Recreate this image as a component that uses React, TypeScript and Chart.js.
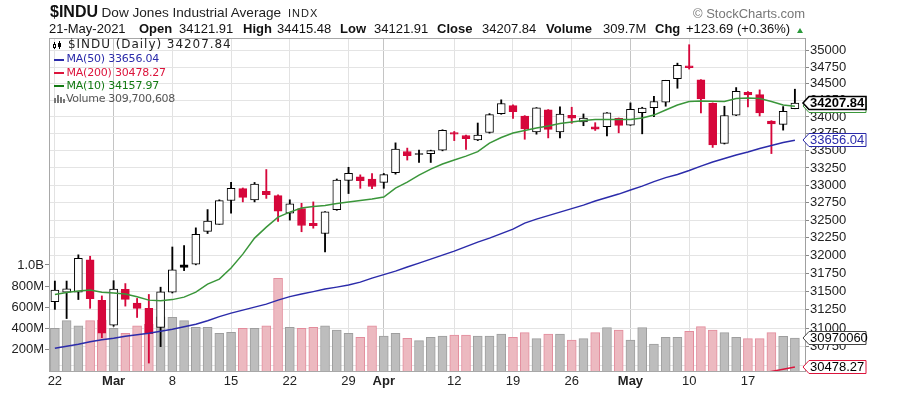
import React, { useEffect, useRef } from 'react';
import { Chart, registerables } from 'chart.js';

Chart.register(...registerables);

// ---------- data ----------
const dates = [
  '2021-02-22', '2021-02-23', '2021-02-24', '2021-02-25', '2021-02-26',
  '2021-03-01', '2021-03-02', '2021-03-03', '2021-03-04', '2021-03-05',
  '2021-03-08', '2021-03-09', '2021-03-10', '2021-03-11', '2021-03-12',
  '2021-03-15', '2021-03-16', '2021-03-17', '2021-03-18', '2021-03-19',
  '2021-03-22', '2021-03-23', '2021-03-24', '2021-03-25', '2021-03-26',
  '2021-03-29', '2021-03-30', '2021-03-31', '2021-04-01',
  '2021-04-05', '2021-04-06', '2021-04-07', '2021-04-08', '2021-04-09',
  '2021-04-12', '2021-04-13', '2021-04-14', '2021-04-15', '2021-04-16',
  '2021-04-19', '2021-04-20', '2021-04-21', '2021-04-22', '2021-04-23',
  '2021-04-26', '2021-04-27', '2021-04-28', '2021-04-29', '2021-04-30',
  '2021-05-03', '2021-05-04', '2021-05-05', '2021-05-06', '2021-05-07',
  '2021-05-10', '2021-05-11', '2021-05-12', '2021-05-13', '2021-05-14',
  '2021-05-17', '2021-05-18', '2021-05-19', '2021-05-20', '2021-05-21',
];

const opens = [
  31360, 31490, 31490, 31940, 31380,
  31040, 31530, 31340, 31270, 31010,
  31490, 31870, 31880, 32340, 32440,
  32780, 32950, 32790, 32910, 32850,
  32600, 32665, 32455, 32310, 32650,
  33070, 33120, 33090, 33040,
  33180, 33490, 33460, 33460, 33510,
  33770, 33725, 33660, 33770, 34050,
  34170, 34015, 33780, 34105, 33780,
  34025, 33925, 33855, 33855, 33980,
  33880, 34063, 34140, 34220, 34575,
  34770, 34555, 34205, 33610, 34025,
  34370, 34335, 33940, 33890, 34121.91,
];

const highs = [
  31645, 31645, 32010, 31990, 31440,
  31650, 31610, 31405, 31460, 31560,
  32120, 32140, 32390, 32650, 32790,
  33040, 32960, 33040, 33227, 32860,
  32790, 32740, 32760, 32620, 33090,
  33260, 33150, 33170, 33170,
  33617, 33540, 33510, 33510, 33810,
  33785, 33730, 33910, 34050, 34256,
  34180, 34020, 34140, 34110, 34150,
  34145, 34045, 33915, 34065, 33985,
  34210, 34145, 34310, 34550, 34810,
  35091.56, 34560, 34210, 34160, 34440,
  34380, 34405, 33945, 34155, 34415.48,
];

const lows = [
  31255, 31130, 31390, 31270, 30870,
  31025, 31300, 31145, 30530, 30750,
  31480, 31790, 31870, 32310, 32440,
  32600, 32760, 32760, 32810, 32480,
  32500, 32335, 32385, 32050, 32640,
  32880, 32955, 32950, 32955,
  33160, 33365, 33330, 33330, 33500,
  33650, 33520, 33650, 33760, 34040,
  33980, 33670, 33745, 33690, 33690,
  33905, 33870, 33800, 33720, 33765,
  33875, 33750, 34005, 34160, 34430,
  34720, 34060, 33550, 33600, 34020,
  34150, 34015, 33460, 33805, 34121.91,
];

const closes = [
  31521.69, 31537.35, 31961.86, 31402.01, 30932.37,
  31535.51, 31391.52, 31270.09, 30924.14, 31496.30,
  31802.44, 31832.74, 32297.02, 32485.59, 32778.64,
  32953.46, 32825.95, 33015.37, 32862.30, 32627.97,
  32731.20, 32423.15, 32420.06, 32619.48, 33072.88,
  33171.37, 33066.96, 32981.55, 33153.21,
  33527.19, 33430.24, 33446.26, 33503.57, 33800.60,
  33745.40, 33677.27, 33730.89, 34035.99, 34200.67,
  34077.63, 33821.30, 34137.31, 33815.90, 34043.49,
  33981.57, 33984.93, 33820.38, 34060.36, 33874.85,
  34113.23, 34133.03, 34230.34, 34548.53, 34777.76,
  34742.82, 34269.16, 33587.66, 34021.45, 34382.13,
  34327.79, 34060.66, 33896.04, 34084.15, 34207.84,
];

const prevClose = 31494.32;

const volumes = [
  403e6, 475e6, 425e6, 475e6, 480e6,
  403e6, 356e6, 425e6, 440e6, 510e6,
  507e6, 475e6, 412e6, 412e6, 356e6,
  365e6, 403e6, 403e6, 425e6, 875e6,
  412e6, 403e6, 412e6, 425e6, 387e6,
  356e6, 318e6, 425e6, 330e6,
  356e6, 308e6, 286e6, 318e6, 330e6,
  340e6, 340e6, 330e6, 330e6, 349e6,
  318e6, 362e6, 305e6, 349e6, 349e6,
  292e6, 305e6, 362e6, 409e6, 387e6,
  292e6, 409e6, 255e6, 318e6, 318e6,
  374e6, 418e6, 387e6, 362e6, 318e6,
  305e6, 305e6, 362e6, 327e6, 309700608,
];

const ma10 = [
  31458, 31486, 31506, 31520, 31492,
  31479, 31465, 31428, 31382, 31375,
  31389, 31423, 31492, 31603, 31672,
  31825, 32020, 32245, 32400, 32543,
  32614, 32672, 32693, 32707, 32736,
  32757, 32779, 32800, 32829,
  32959, 33045, 33146, 33234, 33307,
  33365, 33423, 33489, 33614, 33695,
  33762, 33799, 33836, 33865, 33902,
  33924, 33947, 33961, 33961, 33961,
  33964, 33984, 34028, 34103, 34178,
  34231, 34238, 34234, 34231, 34276,
  34283, 34276, 34231, 34178, 34157.97,
];

const ma50 = [
  30729, 30756, 30783, 30817, 30844,
  30864, 30891, 30911, 30931, 30958,
  30986, 31020, 31053, 31101, 31156,
  31204, 31245, 31286, 31327, 31382,
  31430, 31465, 31499, 31534, 31561,
  31589, 31630, 31686, 31734,
  31783, 31839, 31894, 31950, 32006,
  32062, 32125, 32189, 32245, 32309,
  32372, 32457, 32514, 32564, 32614,
  32664, 32714, 32772, 32822, 32872,
  32930, 32987, 33052, 33110, 33154,
  33212, 33277, 33336, 33387, 33438,
  33482, 33533, 33577, 33621, 33656.04,
];

const ma200: (number | null)[] = [
  null, null, null, null, null,
  null, null, null, null, null,
  null, null, null, null, null,
  null, null, null, null, null,
  null, null, null, null, null,
  null, null, null, null,
  null, null, null, null, null,
  null, null, null, null, null,
  null, null, null, null, null,
  null, null, null, null, null,
  null, null, null, null, null,
  null, null, null, null, null,
  null, 30390, 30418, 30448, 30478.27,
];

const priceTicks = [
  30500, 30750, 31000, 31250, 31500, 31750, 32000, 32250, 32500,
  32750, 33000, 33250, 33500, 33750, 34000, 34250, 34500, 34750, 35000,
];
const volTicks = [200e6, 400e6, 600e6, 800e6, 1e9];
const volTickLabels = ['200M', '400M', '600M', '800M', '1.0B'];
const xTickIdx = [0, 5, 10, 15, 20, 25, 28, 34, 39, 44, 49, 54, 59];
const xTickLabels = ['22', 'Mar', '8', '15', '22', '29', 'Apr', '12', '19', '26', 'May', '10', '17'];
const MONTHS = ['Jan', 'Feb', 'Mar', 'Apr', 'May', 'Jun', 'Jul', 'Aug', 'Sep', 'Oct', 'Nov', 'Dec'];

// ---------- style ----------
const FONT = '"Liberation Sans", Arial, Helvetica, sans-serif';
const LFONT = '"DejaVu Sans", Verdana, sans-serif';
const RED = '#d6073b';
const BLUE = '#2b2baa';
const GREEN = '#3a963a';
const MA200C = '#dc143c';

function fmtDate(s: string) {
  const [y, m, d] = s.split('-');
  return `${d}-${MONTHS[+m - 1]}-${y}`;
}

function drawTag(ctx: CanvasRenderingContext2D, x: number, y: number, text: string,
  stroke: string, color: string, bold: boolean, lw: number) {
  const h = 13, w = 63, tip = 6;
  ctx.save();
  ctx.beginPath();
  ctx.moveTo(x, y);
  ctx.lineTo(x + tip, y - h / 2);
  ctx.lineTo(x + w, y - h / 2);
  ctx.lineTo(x + w, y + h / 2);
  ctx.lineTo(x + tip, y + h / 2);
  ctx.closePath();
  ctx.fillStyle = '#fff';
  ctx.fill();
  ctx.lineWidth = lw;
  ctx.strokeStyle = stroke;
  ctx.stroke();
  ctx.fillStyle = color;
  ctx.font = `${bold ? 'bold ' : ''}13px ${FONT}`;
  ctx.textBaseline = 'middle';
  ctx.textAlign = 'left';
  ctx.fillText(text, x + 7, y + 0.5);
  ctx.restore();
}

export default function App() {
  const ref = useRef<HTMLCanvasElement>(null);
  const n = closes.length;
  const last = n - 1;
  const chg = closes[last] - closes[last - 1];
  const pct = (chg / closes[last - 1]) * 100;
  const m200Last = (ma200[last] ?? 0) as number;

  useEffect(() => {
    const up = closes.map((c, i) => c >= (i === 0 ? prevClose : closes[i - 1]));
    const candleColor = up.map((u) => (u ? '#000' : RED));
    const bodyFill = closes.map((c, i) => (c > opens[i] ? '#fff' : candleColor[i]));
    const idx = closes.map((_, i) => i);
    const monthIdx = xTickIdx.filter((_, k) => MONTHS.includes(xTickLabels[k]));

    Chart.defaults.font.family = FONT;

    const overlay = {
      id: 'overlay',
      beforeDatasetsDraw(chart: any) {
        const { ctx, chartArea: a } = chart;
        ctx.save();
        ctx.strokeStyle = '#a8a8a8';
        ctx.lineWidth = 1;
        ctx.beginPath();
        ctx.moveTo(a.left, a.top + 0.5);
        ctx.lineTo(a.right, a.top + 0.5);
        ctx.stroke();
        ctx.restore();
      },
      afterDraw(chart: any) {
        const { ctx, chartArea: a } = chart;
        const ys = chart.scales.y;
        const yv = chart.scales.yVol;
        const x0 = a.right - 2;
        drawTag(ctx, x0, Math.round(ys.getPixelForValue(ma10[last])), ma10[last].toFixed(2), GREEN, GREEN, false, 1);
        drawTag(ctx, x0, Math.round(ys.getPixelForValue(closes[last])), closes[last].toFixed(2), '#000', '#000', true, 1.6);
        drawTag(ctx, x0, Math.round(ys.getPixelForValue(ma50[last])), ma50[last].toFixed(2), BLUE, BLUE, false, 1);
        drawTag(ctx, x0, Math.round(yv.getPixelForValue(volumes[last])), String(Math.round(volumes[last])).slice(0, 8), '#444', '#000', false, 1);
        drawTag(ctx, x0, Math.round(ys.getPixelForValue(m200Last)), m200Last.toFixed(2), MA200C, '#000', false, 1);
      },
    };

    const chart = new Chart(ref.current as HTMLCanvasElement, {
      type: 'bar',
      data: {
        datasets: [
          {
            type: 'bar',
            label: 'Volume',
            yAxisID: 'yVol',
            data: idx.map((i) => ({ x: i, y: volumes[i] })),
            backgroundColor: up.map((u) => (u ? '#bdbdbd' : '#ecb9c0')),
            borderColor: up.map((u) => (u ? '#9e9e9e' : '#e38c9c')),
            borderWidth: 1,
            borderSkipped: 'start',
            barThickness: 9,
            grouped: false,
            order: 10,
          } as any,
          {
            type: 'bar',
            label: 'Wick',
            yAxisID: 'y',
            data: idx.map((i) => ({ x: i, y: [lows[i], highs[i]] })),
            backgroundColor: candleColor,
            borderWidth: 0,
            barThickness: 1.2,
            grouped: false,
            order: 6,
          } as any,
          {
            type: 'bar',
            label: 'Body',
            yAxisID: 'y',
            data: idx.map((i) => ({ x: i, y: [opens[i], closes[i]] })),
            backgroundColor: bodyFill,
            borderColor: candleColor,
            borderWidth: 1,
            borderSkipped: false,
            barThickness: 8,
            grouped: false,
            order: 5,
          } as any,
          {
            type: 'line',
            label: 'MA(200)',
            yAxisID: 'y',
            data: idx.map((i) => ({ x: i, y: ma200[i] })),
            borderColor: MA200C,
            borderWidth: 1.5,
            pointRadius: 0,
            order: 3,
          } as any,
          {
            type: 'line',
            label: 'MA(50)',
            yAxisID: 'y',
            data: idx.map((i) => ({ x: i, y: ma50[i] })),
            borderColor: BLUE,
            borderWidth: 1.5,
            pointRadius: 0,
            order: 2,
          } as any,
          {
            type: 'line',
            label: 'MA(10)',
            yAxisID: 'y',
            data: idx.map((i) => ({ x: i, y: ma10[i] })),
            borderColor: GREEN,
            borderWidth: 1.5,
            pointRadius: 0,
            order: 1,
          } as any,
        ],
      },
      options: {
        responsive: false,
        animation: false,
        devicePixelRatio: 1,
        layout: { padding: { top: 38, left: 0, right: 0, bottom: 0 } },
        plugins: { legend: { display: false }, tooltip: { enabled: false } },
        scales: {
          x: {
            type: 'linear',
            min: -0.5,
            max: 63.86,
            offset: false,
            afterBuildTicks: (s: any) => { s.ticks = xTickIdx.map((v) => ({ value: v })); },
            afterFit: (s: any) => { s.height = 23; },
            ticks: {
              autoSkip: false,
              maxRotation: 0,
              minRotation: 0,
              padding: 3,
              color: '#222',
              font: (ctx: any) => ({
                family: FONT,
                size: 13,
                weight: ctx.tick && monthIdx.includes(ctx.tick.value) ? 'bold' : 'normal',
              }),
              callback: (v: any) => {
                const k = xTickIdx.indexOf(v);
                return k >= 0 ? xTickLabels[k] : '';
              },
            },
            grid: {
              offset: false,
              drawTicks: false,
              color: (ctx: any) => (ctx.tick && monthIdx.includes(ctx.tick.value) ? '#c4c4c4' : '#e2e2e2'),
            },
            border: { display: true, color: '#a8a8a8' },
          },
          y: {
            type: 'logarithmic',
            position: 'right',
            min: 30424,
            max: 35195,
            afterBuildTicks: (s: any) => { s.ticks = priceTicks.map((v) => ({ value: v })); },
            afterFit: (s: any) => { s.width = 94; },
            ticks: {
              autoSkip: false,
              padding: 1,
              color: '#222',
              font: { family: FONT, size: 13 },
              callback: (v: any) => String(v),
            },
            grid: { color: '#e4e4e4', tickColor: '#888', tickLength: 4, drawTicks: true },
            border: { display: true, color: '#a0a0a0' },
          },
          yVol: {
            type: 'linear',
            position: 'left',
            min: 0,
            max: 3.1415e9,
            afterBuildTicks: (s: any) => { s.ticks = volTicks.map((v) => ({ value: v })); },
            afterFit: (s: any) => { s.width = 49; },
            ticks: {
              autoSkip: false,
              padding: 1,
              color: '#222',
              font: { family: FONT, size: 13 },
              callback: (v: any) => {
                const k = volTicks.indexOf(v);
                return k >= 0 ? volTickLabels[k] : '';
              },
            },
            grid: { drawOnChartArea: false, tickColor: '#888', tickLength: 4, drawTicks: true },
            border: { display: true, color: '#a8a8a8' },
          },
        } as any,
      },
      plugins: [overlay],
    });
    return () => chart.destroy();
  }, []);

  const abs = (left: number, top: number, extra: React.CSSProperties = {}): React.CSSProperties => ({
    position: 'absolute', left, top, lineHeight: 1, whiteSpace: 'nowrap', ...extra,
  });

  const hdr = [
    { t: fmtDate(dates[last]), x: 49, b: false },
    { t: 'Open', x: 139, b: true },
    { t: opens[last].toFixed(2), x: 179, b: false },
    { t: 'High', x: 243, b: true },
    { t: highs[last].toFixed(2), x: 277, b: false },
    { t: 'Low', x: 340, b: true },
    { t: lows[last].toFixed(2), x: 374, b: false },
    { t: 'Close', x: 437, b: true },
    { t: closes[last].toFixed(2), x: 482, b: false },
    { t: 'Volume', x: 546, b: true },
    { t: (volumes[last] / 1e6).toFixed(1) + 'M', x: 603, b: false },
    { t: 'Chg', x: 655, b: true },
    { t: `${chg >= 0 ? '+' : ''}${chg.toFixed(2)} (${pct >= 0 ? '+' : ''}${pct.toFixed(2)}%)`, x: 686, b: false },
  ];

  const legendMA = [
    { label: 'MA(50)', v: ma50[last], c: BLUE, top: 53.4, mid: 59.5 },
    { label: 'MA(200)', v: m200Last, c: MA200C, top: 66.7, mid: 72.8 },
    { label: 'MA(10)', v: ma10[last], c: '#137a13', top: 80, mid: 86 },
  ];

  return (
    <div style={{ position: 'absolute', left: 0, top: 0, width: 899, height: 394, background: '#fff', overflow: 'hidden', fontFamily: FONT }}>
      <canvas ref={ref} width={899} height={394} style={{ position: 'absolute', left: 0, top: 0, width: 899, height: 394 }} />
      {/* header line 1 */}
      <div style={abs(50, 4, { fontSize: 16, fontWeight: 'bold', color: '#111' })}>$INDU</div>
      <div style={abs(101.5, 5.8, { fontSize: 13.6, color: '#222' })}>Dow Jones Industrial Average</div>
      <div style={abs(288, 8, { fontSize: 11, letterSpacing: '1px', color: '#222' })}>INDX</div>
      <div style={abs(693, 7, { fontSize: 13, color: '#777' })}>© StockCharts.com</div>
      {/* header line 2 */}
      {hdr.map((h, i) => (
        <div key={i} style={abs(h.x, 22.3, { fontSize: 13, fontWeight: h.b ? 'bold' : 'normal', color: '#111' })}>{h.t}</div>
      ))}
      <div style={{ position: 'absolute', left: 797, top: 27.5, width: 0, height: 0, borderLeft: '3.5px solid transparent', borderRight: '3.5px solid transparent', borderBottom: '5px solid #2a9a3a' }} />
      {/* legend */}
      <div style={{ position: 'absolute', left: 54, top: 42, width: 1, height: 7, background: '#000' }} />
      <div style={{ position: 'absolute', left: 53, top: 43.5, width: 3, height: 4, border: '1px solid #000', boxSizing: 'border-box', background: '#fff' }} />
      <div style={{ position: 'absolute', left: 59, top: 41, width: 1, height: 8, background: '#000' }} />
      <div style={{ position: 'absolute', left: 58, top: 42.5, width: 3, height: 4, background: '#000' }} />
      <div style={abs(68, 38.3, { fontSize: 12, fontFamily: LFONT, letterSpacing: '0.95px', color: '#222' })}>
        $INDU (Daily) {closes[last].toFixed(2)}
      </div>
      {legendMA.map((m, i) => (
        <React.Fragment key={i}>
          <div style={{ position: 'absolute', left: 54, top: m.mid - 1, width: 10, height: 2, background: m.c }} />
          <div style={abs(66.5, m.top, { fontSize: 11, fontFamily: LFONT, letterSpacing: '-0.2px', color: m.c })}>
            {m.label} {m.v.toFixed(2)}
          </div>
        </React.Fragment>
      ))}
      <div style={{ position: 'absolute', left: 54, top: 98, width: 2, height: 5, background: '#777' }} />
      <div style={{ position: 'absolute', left: 57, top: 95, width: 2, height: 8, background: '#777' }} />
      <div style={{ position: 'absolute', left: 60, top: 96.5, width: 2, height: 6.5, background: '#777' }} />
      <div style={{ position: 'absolute', left: 63, top: 99, width: 2, height: 4, background: '#777' }} />
      <div style={abs(66, 93.4, { fontSize: 11, fontFamily: LFONT, letterSpacing: '-0.3px', color: '#555' })}>
        Volume {Math.round(volumes[last]).toLocaleString('en-US')}
      </div>
    </div>
  );
}
